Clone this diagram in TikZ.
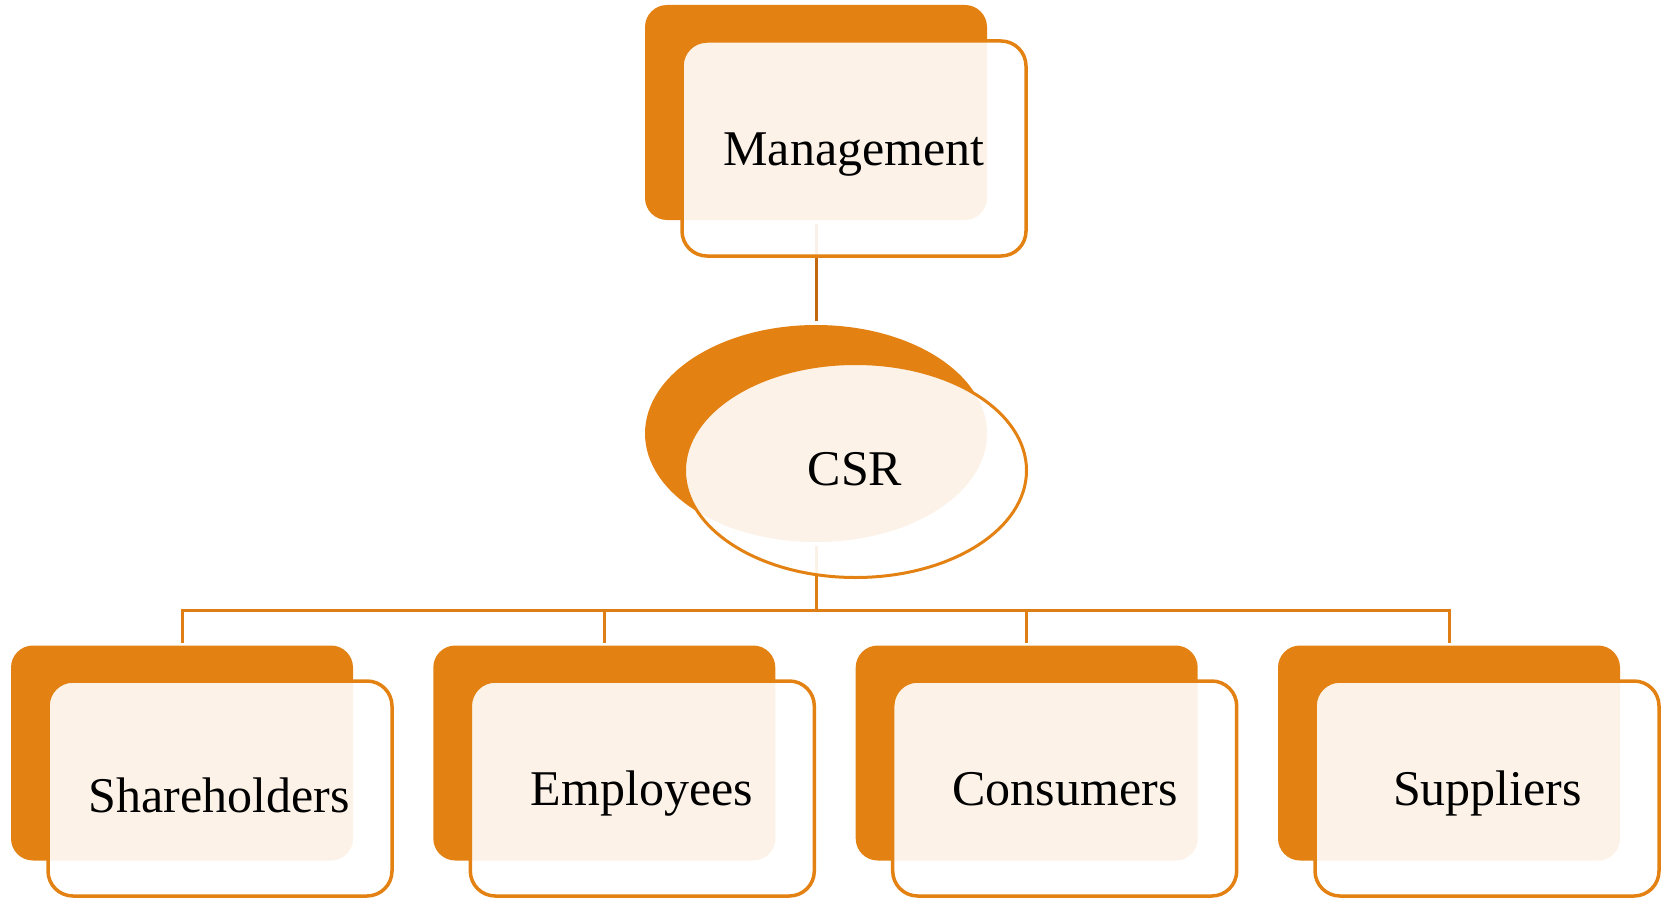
\documentclass[tikz,border=0pt]{standalone}
\usepackage{fontspec}
\setmainfont{Liberation Serif}
\usetikzlibrary{shapes.geometric}
\pgfdeclarelayer{bg}
\pgfsetlayers{bg,main}
\definecolor{csrorange}{RGB}{227,130,19}
\definecolor{linkdark}{RGB}{196,104,15}
\definecolor{linkorange}{RGB}{222,126,20}
\begin{document}
\begin{tikzpicture}[x=1pt,y=-1pt,
 backbox/.style={rectangle, rounded corners=22pt, fill=csrorange, minimum width=342pt, minimum height=215pt, inner sep=0pt, outer sep=0pt},
 frontbox/.style={rectangle, rounded corners=25pt, draw=csrorange, line width=3.5pt, fill=white, fill opacity=0.9, minimum width=344pt, minimum height=215pt, inner sep=0pt, outer sep=0pt},
 backell/.style={ellipse, fill=csrorange, minimum width=342pt, minimum height=217pt, inner sep=0pt, outer sep=0pt},
 frontell/.style={ellipse, draw=csrorange, line width=3pt, fill=white, fill opacity=0.9, minimum width=342pt, minimum height=214pt, inner sep=0pt, outer sep=0pt},
 boxtext/.style={font=\fontsize{50}{60}\selectfont, anchor=base, inner sep=0pt, text=black},
 link/.style={line width=3pt, draw=linkorange}]
\useasboundingbox (0,0) rectangle (1669,899);
% Management
\node[backbox] (mgmtback) at (816,112.5) {};
\node[frontbox] (mgmt) at (854,148.5) {};
\node[boxtext] (mgmttext) at (854,165) {Management};
% CSR
\node[backell] (csrback) at (816,433.5) {};
\node[frontell] (csr) at (855.5,470.5) {};
\node[boxtext] (csrtext) at (855,485) {CSR};
% Stakeholders
\node[backbox] (shback) at (182,753) {};
\node[frontbox] (sh) at (220,788.5) {};
\node[boxtext] (shtext) at (219.5,812) {Shareholders};
\node[backbox] (empback) at (604.3,753) {};
\node[frontbox] (emp) at (642.3,788.5) {};
\node[boxtext] (emptext) at (642,805) {Employees};
\node[backbox] (conback) at (1026.7,753) {};
\node[frontbox] (con) at (1064.7,788.5) {};
\node[boxtext] (context) at (1065,805) {Consumers};
\node[backbox] (supback) at (1449,753) {};
\node[frontbox] (sup) at (1487,788.5) {};
\node[boxtext] (suptext) at (1487.5,805) {Suppliers};
% connectors
\coordinate (busmid) at (816,610.5);
\begin{pgfonlayer}{bg}
\draw[link, draw=linkdark] ([yshift=-4pt]mgmtback.south) -- ([yshift=4pt]csrback.north);
\draw[link] ([yshift=-4pt]csrback.south) -- (busmid);
\draw[link] ([yshift=3pt]shback.north) -- (shback.north |- busmid) -- (supback.north |- busmid) -- ([yshift=3pt]supback.north);
\draw[link] (empback.north |- busmid) -- ([yshift=3pt]empback.north);
\draw[link] (conback.north |- busmid) -- ([yshift=3pt]conback.north);
\end{pgfonlayer}
\end{tikzpicture}
\end{document}
